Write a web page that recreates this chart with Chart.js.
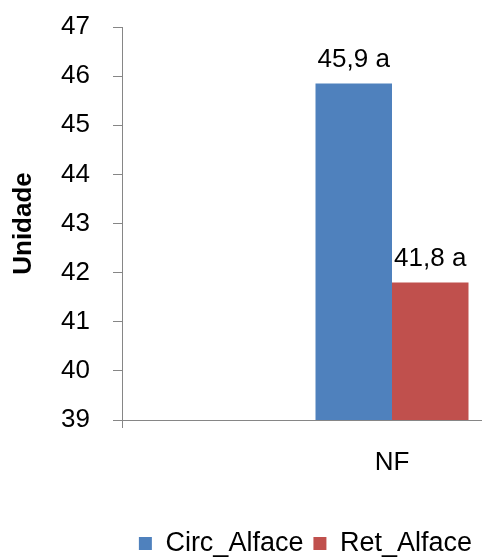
<!DOCTYPE html>
<html>
<head>
<meta charset="utf-8">
<script src="https://cdn.jsdelivr.net/npm/chart.js@4/dist/chart.umd.min.js"></script>
<style>
html,body{margin:0;padding:0;background:#fff;}
#c{display:block;}
</style>
</head>
<body>
<canvas id="c" width="482" height="557"></canvas>
<script>
const categories = ["", "NF"];
const seriesNames = ["Circ_Alface", "Ret_Alface"];
const circValues = [null, 45.85];
const retValues = [null, 41.8];
const circLabels = ["", "45,9 a"];
const retLabels = ["", "41,8 a"];
const yMin = 39, yMax = 47, yStep = 1;

const FONT = "'Liberation Sans', Arial, sans-serif";
const AXIS = '#868686';

const valueLabelPlugin = {
  id: 'valueLabels',
  afterDatasetsDraw(chart) {
    const ctx = chart.ctx;
    ctx.save();
    ctx.font = '26px ' + FONT;
    ctx.fillStyle = '#000';
    ctx.textAlign = 'center';
    ctx.textBaseline = 'alphabetic';
    chart.data.datasets.forEach((ds, di) => {
      const meta = chart.getDatasetMeta(di);
      meta.data.forEach((el, i) => {
        const txt = ds.valueLabels[i];
        if (!txt || ds.data[i] == null) return;
        ctx.fillText(txt, el.x, el.y - 16);
      });
    });
    ctx.restore();
  }
};

const legendHeightPlugin = {
  id: 'legendHeight',
  beforeInit(chart) {
    const lg = chart.legend;
    if (!lg) return;
    const origFit = lg.fit;
    lg.fit = function () {
      origFit.call(this);
      this.height = 37;
    };
  }
};

new Chart(document.getElementById('c'), {
  type: 'bar',
  data: {
    labels: categories,
    datasets: [
      { label: seriesNames[0], data: circValues, valueLabels: circLabels,
        backgroundColor: '#4F81BD', borderWidth: 0 },
      { label: seriesNames[1], data: retValues, valueLabels: retLabels,
        backgroundColor: '#C0504D', borderWidth: 0 }
    ]
  },
  options: {
    responsive: false,
    animation: false,
    devicePixelRatio: 1,
    layout: { padding: { top: 27, left: 4, right: 0, bottom: 0 } },
    datasets: { bar: { categoryPercentage: 0.85, barPercentage: 1.0 } },
    plugins: {
      tooltip: { enabled: false },
      legend: {
        position: 'bottom',
        align: 'end',
        labels: {
          color: '#000',
          font: { family: FONT, size: 27 },
          boxWidth: 13, boxHeight: 13,
          padding: 10
        }
      }
    },
    scales: {
      x: {
        offset: true,
        border: { display: true, color: AXIS, width: 1 },
        grid: {
          offset: true,
          drawOnChartArea: false,
          drawTicks: true,
          tickLength: 8,
          color: (ctx) => ctx.index === 0 ? AXIS : 'rgba(0,0,0,0)'
        },
        ticks: { color: '#000', font: { family: FONT, size: 26 }, padding: 19, maxRotation: 0 },
        afterFit: (s) => { s.height = 100; }
      },
      y: {
        min: yMin, max: yMax,
        border: { display: true, color: AXIS, width: 1 },
        grid: { drawOnChartArea: false, drawTicks: true, tickLength: 9, color: AXIS },
        ticks: { stepSize: yStep, color: '#000', font: { family: FONT, size: 26 }, padding: 23 },
        title: {
          display: true, text: 'Unidade', color: '#000',
          font: { family: FONT, size: 26, weight: 'bold' },
          padding: { top: 4, bottom: 0 }
        },
        afterFit: (s) => { s.width = 118; s.paddingTop = 0; s.paddingBottom = 0; }
      }
    }
  },
  plugins: [legendHeightPlugin, valueLabelPlugin]
});
</script>
</body>
</html>
